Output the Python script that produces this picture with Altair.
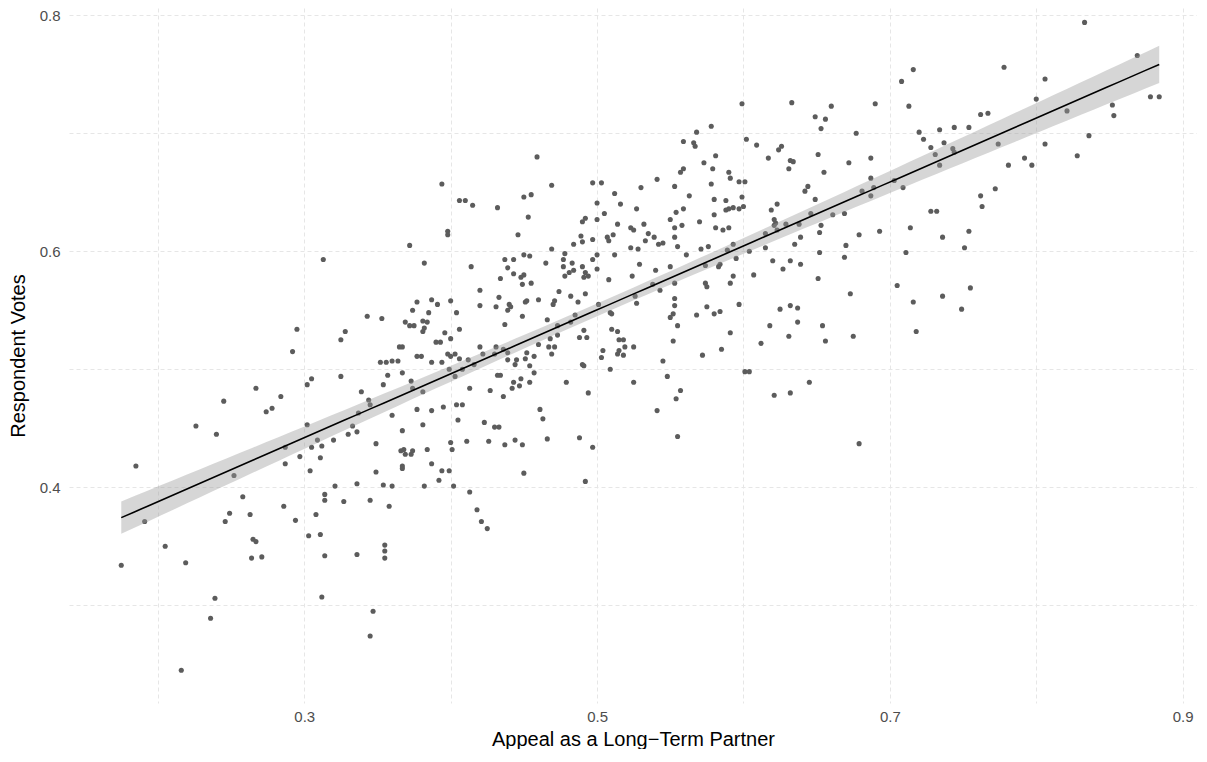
import altair as alt
import numpy as np
import pandas as pd

# ---- data (appeal = x, votes = y) ----
appeal_left = [0.267,0.245,0.274,0.278,0.226,0.240,0.185,0.252,0.258,0.249,0.246,0.263,0.191,0.205,0.265,0.267,0.264,0.271,0.175,0.219,0.239,0.236,0.216]
votes_left = [0.484,0.473,0.464,0.467,0.452,0.445,0.418,0.410,0.392,0.378,0.371,0.377,0.371,0.350,0.356,0.354,0.340,0.341,0.334,0.336,0.306,0.289,0.245]

appeal_mid_left = [0.313,0.382,0.295,0.292,0.343,0.353,0.325,0.328,0.377,0.387,
    0.391,0.400,0.374,0.385,0.404,0.369,0.372,0.375,0.381,0.384,
    0.382,0.381,0.396,0.406,0.400,0.390,0.393,0.365,0.367,0.377,
    0.380,0.398,0.400,0.403,0.406,0.352,0.356,0.360,0.364,0.387,
    0.394,0.284,0.302,0.305,0.325,0.339,0.357,0.354,0.367,0.373,
    0.374,0.381,0.399,0.403,0.344,0.345,0.337,0.360,0.377,0.387,
    0.395,0.404,0.405,0.302,0.333,0.330,0.336,0.367,0.381,0.320,
    0.309,0.305,0.312,0.287,0.349,0.297,0.311,0.287,0.304,0.366,
    0.369,0.368,0.373,0.374,0.384,0.400,0.401,0.349,0.367,0.367,
    0.387,0.394,0.399,0.321,0.336,0.354,0.360,0.382,0.392,0.402,
    0.286,0.314,0.314,0.327,0.345,0.358,0.294,0.308,0.303,0.311,
    0.314,0.336,0.355,0.355,0.355,0.312,0.347,0.345,
    0.394,0.398,0.398,0.372]
votes_mid_left = [0.593,0.590,0.534,0.515,0.545,0.543,0.525,0.532,0.557,0.559,
    0.555,0.558,0.550,0.548,0.548,0.540,0.537,0.537,0.541,0.540,
    0.535,0.532,0.531,0.534,0.526,0.523,0.523,0.519,0.519,0.511,
    0.511,0.513,0.511,0.513,0.509,0.506,0.506,0.507,0.507,0.506,
    0.506,0.477,0.487,0.492,0.494,0.481,0.495,0.487,0.497,0.490,
    0.484,0.481,0.500,0.494,0.474,0.470,0.463,0.461,0.466,0.465,
    0.468,0.470,0.457,0.453,0.452,0.445,0.447,0.448,0.453,0.440,
    0.440,0.434,0.435,0.434,0.437,0.426,0.425,0.420,0.414,0.431,
    0.428,0.432,0.428,0.431,0.432,0.438,0.432,0.413,0.418,0.416,
    0.420,0.414,0.414,0.401,0.403,0.402,0.401,0.401,0.406,0.401,
    0.384,0.394,0.389,0.388,0.389,0.384,0.372,0.377,0.359,0.360,
    0.342,0.343,0.351,0.346,0.340,0.307,0.295,0.274,
    0.657,0.617,0.614,0.605]

appeal_center_top = [0.459,0.469,0.497,0.406,0.410,0.415,0.432,0.450,0.455,0.500,
    0.453,0.492,0.490,0.500,0.446,0.489,0.484,0.490,0.497,0.469,
    0.478,0.500,0.437,0.443,0.450,0.454,0.477,0.497,0.414,0.439,
    0.465,0.477,0.483,0.490,0.500,0.434,0.443,0.448,0.450,0.449,
    0.455,0.478,0.481,0.484,0.491,0.492,0.494,0.420,0.474,0.492,
    0.433,0.482,0.487,0.420,0.431,0.440,0.441,0.439,0.451,0.452,
    0.460,0.470,0.471,0.485,0.501,0.449,0.466,0.437,0.473,0.482,
    0.491,0.473,0.488,0.493,0.468]
votes_center_top = [0.680,0.656,0.658,0.643,0.643,0.639,0.637,0.646,0.648,0.641,
    0.629,0.628,0.625,0.627,0.614,0.613,0.606,0.608,0.610,0.602,
    0.598,0.597,0.593,0.593,0.597,0.596,0.593,0.593,0.587,0.586,
    0.590,0.587,0.590,0.587,0.585,0.577,0.581,0.578,0.580,0.572,
    0.573,0.579,0.582,0.584,0.578,0.582,0.579,0.567,0.566,0.564,
    0.561,0.562,0.557,0.554,0.553,0.555,0.553,0.550,0.557,0.558,
    0.559,0.555,0.558,0.546,0.555,0.545,0.542,0.538,0.537,0.540,
    0.533,0.529,0.527,0.527,0.526]

appeal_center_low = [0.420,0.431,0.422,0.430,0.436,0.439,0.412,0.416,0.408,0.439,
    0.445,0.444,0.452,0.451,0.457,0.460,0.467,0.471,0.469,0.454,
    0.457,0.432,0.434,0.443,0.448,0.442,0.447,0.454,0.490,0.491,
    0.479,0.413,0.427,0.436,0.494,0.408,0.461,0.463,0.423,0.430,
    0.433,0.411,0.426,0.437,0.444,0.449,0.466,0.488,0.497,0.450,
    0.492,0.413,0.418,0.421,0.425]
votes_center_low = [0.519,0.519,0.513,0.513,0.517,0.514,0.508,0.504,0.500,0.508,
    0.508,0.504,0.514,0.509,0.511,0.521,0.519,0.519,0.513,0.503,
    0.497,0.495,0.495,0.489,0.492,0.484,0.486,0.489,0.504,0.503,
    0.489,0.484,0.482,0.477,0.480,0.470,0.466,0.458,0.455,0.451,
    0.451,0.439,0.439,0.436,0.440,0.436,0.441,0.442,0.434,0.412,
    0.405,0.396,0.381,0.371,0.365]

appeal_mid_right = [0.599,0.578,0.568,0.559,0.566,0.567,0.602,0.609,0.581,0.573,
    0.579,0.557,0.559,0.590,0.591,0.597,0.601,0.503,0.541,0.530,
    0.553,0.578,0.512,0.563,0.599,0.580,0.588,0.516,0.527,0.559,
    0.554,0.588,0.590,0.593,0.597,0.600,0.505,0.580,0.550,0.570,
    0.514,0.532,0.523,0.525,0.553,0.558,0.581,0.586,0.590,0.507,
    0.508,0.511,0.535,0.539,0.533,0.542,0.545,0.553,0.555,0.523,
    0.528,0.571,0.576,0.593,0.589,0.604,0.512,0.561,0.595,0.529,
    0.550,0.574,0.584,0.583,0.540,0.524,0.593,0.607,0.508,0.538,
    0.553,0.574,0.575,0.591,0.543,0.526,0.553,
    0.527,0.553,0.509,0.510,0.552,0.550,0.568,0.575,0.580,0.584,
    0.597,0.555,0.510,0.514,0.591,0.515,0.518,0.552,0.519,0.525,
    0.504,0.515,0.514,0.518,0.503,0.572,0.585,0.545,0.509,0.601,
    0.604,0.548,0.525,0.557,0.554,0.541,0.555]
votes_mid_right = [0.725,0.706,0.701,0.693,0.692,0.689,0.695,0.690,0.681,0.675,
    0.670,0.667,0.670,0.667,0.662,0.659,0.659,0.658,0.661,0.654,
    0.655,0.657,0.649,0.647,0.646,0.644,0.643,0.640,0.636,0.636,
    0.633,0.635,0.636,0.637,0.636,0.638,0.632,0.631,0.627,0.625,
    0.623,0.623,0.620,0.618,0.620,0.622,0.620,0.618,0.620,0.612,
    0.609,0.614,0.615,0.612,0.609,0.606,0.607,0.612,0.604,0.603,
    0.602,0.602,0.604,0.606,0.601,0.600,0.597,0.597,0.594,0.589,
    0.587,0.588,0.589,0.587,0.584,0.579,0.579,0.580,0.576,0.572,
    0.573,0.573,0.570,0.573,0.567,0.562,0.560,
    0.556,0.554,0.548,0.547,0.547,0.544,0.546,0.553,0.547,0.549,
    0.555,0.537,0.534,0.532,0.531,0.525,0.525,0.524,0.519,0.519,
    0.516,0.516,0.513,0.512,0.510,0.512,0.517,0.507,0.500,0.498,
    0.498,0.494,0.489,0.482,0.475,0.465,0.443]

appeal_right = [0.716,0.708,0.633,0.690,0.660,0.713,0.649,0.656,0.653,0.677,
    0.720,0.734,0.744,0.723,0.737,0.626,0.624,0.728,0.743,0.744,
    0.731,0.617,0.651,0.687,0.632,0.634,0.672,0.734,0.631,0.655,
    0.687,0.703,0.689,0.709,0.644,0.642,0.681,0.687,0.649,0.623,
    0.619,0.646,0.661,0.669,0.728,0.732,0.621,0.622,0.621,0.629,
    0.638,0.653,0.623,0.615,0.652,0.679,0.693,0.714,0.639,0.736,
    0.615,0.635,0.670,0.652,0.669,0.711,0.620,0.632,0.639,0.627,
    0.651,0.705,0.673,0.716,0.736,0.625,0.632,0.637,0.637,0.618,
    0.654,0.631,0.612,0.656,0.675,0.718,0.645,0.621,0.632,0.679]
votes_right = [0.754,0.744,0.726,0.725,0.723,0.723,0.714,0.712,0.704,0.700,
    0.701,0.703,0.705,0.695,0.692,0.689,0.686,0.688,0.687,0.684,
    0.682,0.679,0.682,0.679,0.677,0.676,0.675,0.673,0.670,0.667,
    0.662,0.660,0.654,0.654,0.655,0.651,0.651,0.647,0.644,0.640,
    0.635,0.632,0.631,0.632,0.634,0.634,0.627,0.624,0.622,0.623,
    0.623,0.622,0.618,0.615,0.616,0.614,0.617,0.620,0.612,0.612,
    0.603,0.606,0.605,0.599,0.595,0.599,0.592,0.592,0.589,0.585,
    0.577,0.571,0.564,0.557,0.562,0.551,0.554,0.552,0.540,0.537,
    0.537,0.528,0.522,0.524,0.528,0.532,0.489,0.478,0.480,0.437]

appeal_far_right = [0.833,0.869,0.778,0.806,0.800,0.878,0.884,0.852,0.853,0.821,
    0.762,0.767,0.754,0.836,0.774,0.806,0.828,0.792,0.781,0.797,
    0.772,0.762,0.763,0.754,0.751,0.755,0.749]
votes_far_right = [0.794,0.766,0.756,0.746,0.729,0.731,0.731,0.724,0.715,0.719,
    0.716,0.717,0.705,0.698,0.691,0.691,0.681,0.679,0.673,0.673,
    0.653,0.647,0.638,0.617,0.603,0.569,0.551]

x_grid_values = [0.2, 0.3, 0.4, 0.5, 0.6, 0.7, 0.8, 0.9]
y_grid_values = [0.3, 0.4, 0.5, 0.6, 0.7, 0.8]
x_domain = [0.1393, 0.9098]
y_domain = [0.2172, 0.8062]

appeal = (appeal_left + appeal_mid_left + appeal_center_top + appeal_center_low
          + appeal_mid_right + appeal_right + appeal_far_right)
votes = (votes_left + votes_mid_left + votes_center_top + votes_center_low
         + votes_mid_right + votes_right + votes_far_right)

points = pd.DataFrame({"appeal": appeal, "votes": votes})

# ---- linear fit with 95% confidence band (like geom_smooth(method="lm")) ----
xa = np.array(appeal)
ya = np.array(votes)
n = len(xa)
b1, b0 = np.polyfit(xa, ya, 1)
resid = ya - (b0 + b1 * xa)
s = np.sqrt(np.sum(resid ** 2) / (n - 2))
sxx = np.sum((xa - xa.mean()) ** 2)
grid = np.linspace(xa.min(), xa.max(), 80)
fit = b0 + b1 * grid
se = s * np.sqrt(1.0 / n + (grid - xa.mean()) ** 2 / sxx)
tval = 1.9647
fit_df = pd.DataFrame({"appeal": grid, "votes": fit,
                       "lo": fit - tval * se, "hi": fit + tval * se})

FONT = "Liberation Sans"
common_axis = dict(
    grid=True, gridColor="#E6E6E6", gridDash=[4, 3], gridWidth=1,
    ticks=False, tickSize=0, domain=False, labelFlush=False,
    labelFont=FONT, labelFontSize=15, labelColor="#4D4D4D",
    titleFont=FONT, titleFontSize=20, titleFontWeight="normal", titleColor="#000000",
)
x_axis = alt.Axis(values=x_grid_values,
                  labelExpr="round(datum.value*10) % 2 == 1 ? format(datum.value, '.1f') : ''",
                  labelPadding=6, titlePadding=5, **common_axis)
y_axis = alt.Axis(values=y_grid_values,
                  labelExpr="round(datum.value*10) % 2 == 0 ? format(datum.value, '.1f') : ''",
                  labelPadding=9, titlePadding=11, **common_axis)

x_scale = alt.Scale(domain=x_domain, nice=False, zero=False)
y_scale = alt.Scale(domain=y_domain, nice=False, zero=False)

x_enc = alt.X("appeal:Q", scale=x_scale, axis=x_axis, title="Appeal as a Long\u2212Term Partner")

pts = alt.Chart(points).mark_circle(size=26, color="#5C5C5C", opacity=1).encode(
    x=x_enc,
    y=alt.Y("votes:Q", scale=y_scale, axis=y_axis, title="Respondent Votes"),
)

band = alt.Chart(fit_df).mark_area(color="#999999", opacity=0.4).encode(
    x=x_enc,
    y=alt.Y("lo:Q", scale=y_scale, axis=y_axis, title="Respondent Votes"),
    y2="hi:Q",
)

line = alt.Chart(fit_df).mark_line(color="#000000", strokeWidth=1.6).encode(
    x=x_enc,
    y=alt.Y("votes:Q", scale=y_scale, axis=y_axis, title="Respondent Votes"),
)

chart = alt.layer(pts, band, line).properties(
    width=1128, height=695,
    padding={"left": 0, "top": 0, "right": 0, "bottom": 0},
    background="#FFFFFF",
).configure_view(stroke=None)

chart.save("out.html", embed_options={"renderer": "svg", "actions": False})
